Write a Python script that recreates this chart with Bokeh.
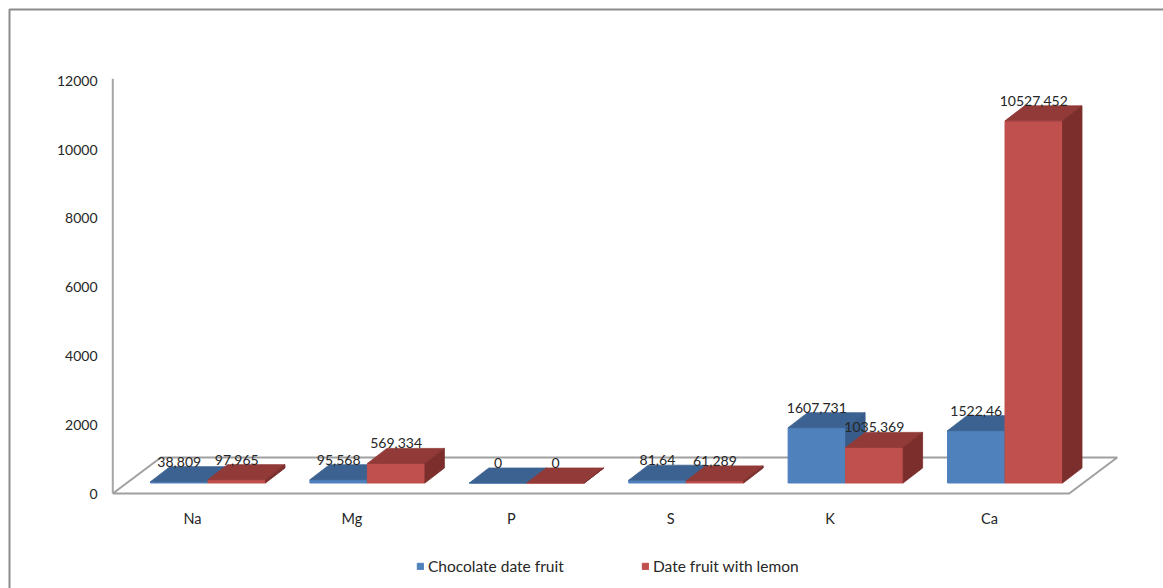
from bokeh.plotting import figure
from bokeh.models import Range1d, ColumnDataSource, Legend, LegendItem
from bokeh.embed import file_html
from bokeh.resources import INLINE
from bokeh.core.properties import value

# ---------------- data ----------------
categories = ["Na", "Mg", "P", "S", "K", "Ca"]
chocolate = [38.809, 95.568, 0, 81.64, 1607.731, 1522.46]
lemon = [97.965, 569.334, 0, 61.289, 1035.369, 10527.452]
series_names = ["Chocolate date fruit", "Date fruit with lemon"]
y_ticks = [0, 2000, 4000, 6000, 8000, 10000, 12000]

# ---------------- geometry / style ----------------
W, H = 1163, 588
PX_X = 159.4            # px per category
UPP = 1 / 0.0344        # value units per px
X0 = 192                # px (from left) of category 0
Y0 = 493                # px (from top) of value 0

def fx(px):
    return (px - X0) / PX_X

def fy(px):
    return (Y0 - px) * UPP

def ux(px):
    return px / PX_X

def uy(px):
    return px * UPP

FONT = "Lato"
TXT = "#262626"

front_cols = ["#4F81BD", "#C0504D"]
top_cols = ["#3C6291", "#923A38"]
side_cols = ["#375C89", "#7B2E2C"]

bar_w = ux(57.5)
bar_off = ux(-42)
base = uy(10.5)
ddx, ddy = ux(19.5), uy(15)
floor_dx, floor_dy = ux(48), uy(36)

p = figure(width=W, height=H, x_range=Range1d(fx(0), fx(W)), y_range=Range1d(fy(H), fy(0)),
           output_backend="svg", toolbar_location=None, min_border=0,
           x_axis_type=None, y_axis_type=None)
p.xgrid.visible = False
p.ygrid.visible = False
p.outline_line_color = None
p.background_fill_color = "white"
p.border_fill_color = "white"

# outer frame border (left and top)
p.line(x=[fx(9), fx(9), fx(W + 5)], y=[fy(H + 5), fy(9), fy(9)], line_color="#8C8C8C", line_width=2)

# y axis line
p.line(x=[-0.5, -0.5], y=[0, 12000 + uy(2)], line_color="#A6A6A6", line_width=2)

# floor
n = len(categories)
fl_x = [-0.5, n - 0.5, n - 0.5 + floor_dx, -0.5 + floor_dx, -0.5]
fl_y = [0, 0, floor_dy, floor_dy, 0]
p.line(x=fl_x, y=fl_y, line_color="#A0A0A0", line_width=2)

# tick labels
p.text(x=[fx(97)] * len(y_ticks), y=y_ticks, text=[str(t) for t in y_ticks],
       text_align="right", text_baseline="middle", text_font=value(FONT),
       text_font_size="14px", text_color=TXT)

# category labels
p.text(x=list(range(n)), y=[fy(518)] * n, text=categories, text_align="center",
       text_baseline="middle", text_font=value(FONT), text_font_size="14.5px", text_color=TXT)


def fmt(v):
    s = str(v)
    if s.endswith(".0"):
        s = s[:-2]
    return s.replace(".", ",")

front_renderers = []
for s, vals in enumerate([chocolate, lemon]):
    L = [i + bar_off + s * bar_w for i in range(n)]
    R = [l + bar_w for l in L]
    B = [base] * n
    T = [base + v for v in vals]
    src = ColumnDataSource(dict(left=L, right=R, bottom=B, top=T))
    fr = p.quad(left="left", right="right", bottom="bottom", top="top", source=src,
                fill_color=front_cols[s], line_color=front_cols[s], line_width=1)
    front_renderers.append(fr)
    top_xs = [[l, r, r + ddx, l + ddx] for l, r in zip(L, R)]
    top_ys = [[t, t, t + ddy, t + ddy] for t in T]
    p.patches(xs=top_xs, ys=top_ys, fill_color=top_cols[s], line_color=top_cols[s], line_width=0.8)
    side_xs = [[r, r + ddx, r + ddx, r] for r in R]
    side_ys = [[b, b + ddy, t + ddy, t] for b, t in zip(B, T)]
    p.patches(xs=side_xs, ys=side_ys, fill_color=side_cols[s], line_color=side_cols[s], line_width=0.8)

# data labels
for s, vals in enumerate([chocolate, lemon]):
    lx = [i + bar_off + s * bar_w + bar_w / 2 for i in range(n)]
    ly = [base + v + ddy + uy(5) for v in vals]
    p.text(x=lx, y=ly, text=[fmt(v) for v in vals], text_align="center", text_baseline="middle",
           text_font=value(FONT), text_font_size="14px", text_color=TXT)

# legends
leg_pos = [(416, 13), (641, 13)]
for s in range(2):
    leg = Legend(items=[LegendItem(label=series_names[s], renderers=[front_renderers[s]])],
                 location=leg_pos[s], orientation="horizontal", glyph_width=8, glyph_height=8,
                 label_height=8, label_standoff=4, padding=0, margin=0, spacing=0,
                 border_line_color=None, background_fill_alpha=0,
                 label_text_font=FONT, label_text_font_size="15.5px", label_text_color=TXT)
    p.add_layout(leg)

open("out.html", "w").write(file_html(p, INLINE))
